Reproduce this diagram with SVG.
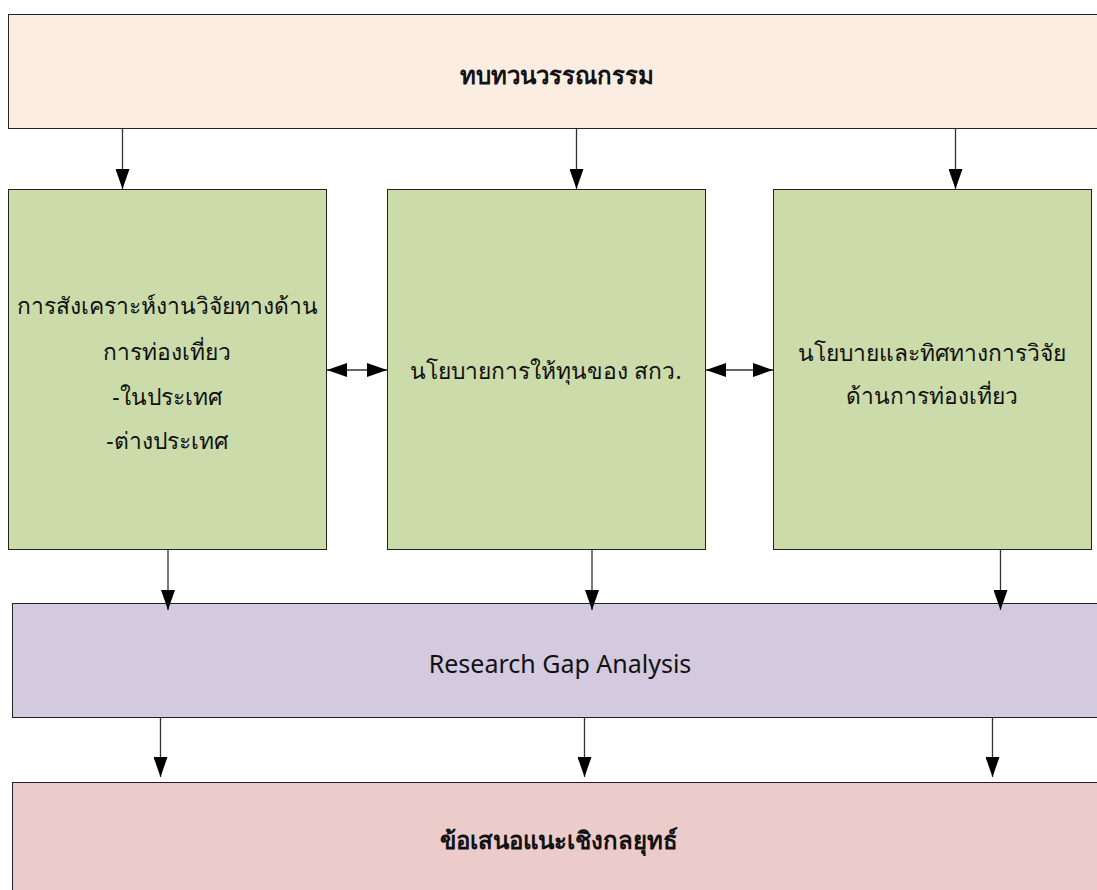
<svg xmlns="http://www.w3.org/2000/svg" width="1097" height="890" viewBox="0 0 1097 890">
  <style>
    .box { stroke: #222; stroke-width: 1; }
    .t { font-family: "Noto Sans", "DejaVu Sans", sans-serif; font-size: 22.8px; fill: #111; text-anchor: middle; dominant-baseline: central; }
    .b { font-weight: bold; font-size: 24px; }
    .en { font-size: 25px; }
    .c { stroke: #333; stroke-width: 1.3; fill: none; }
  </style>
  <defs>
    <marker id="ah" viewBox="0 0 20 14" refX="20" refY="7" markerWidth="20" markerHeight="14" markerUnits="userSpaceOnUse" orient="auto-start-reverse">
      <path d="M0,0 L20,7 L0,14 Z" fill="#000"/>
    </marker>
  </defs>
  <rect width="1097" height="890" fill="#fff"/>

  <g id="literature-review">
    <rect class="box" x="8.5" y="14.5" width="1100" height="114" fill="#fcede2"/>
    <text class="t b" x="557" y="74">ทบทวนวรรณกรรม</text>
  </g>

  <g id="synthesis">
    <rect class="box" x="8.5" y="189.5" width="318" height="360" fill="#cbdba9"/>
    <text class="t" x="167" y="305">การสังเคราะห์งานวิจัยทางด้าน</text>
    <text class="t" x="167" y="351">การท่องเที่ยว</text>
    <text class="t" x="167" y="396">-ในประเทศ</text>
    <text class="t" x="167" y="440">-ต่างประเทศ</text>
  </g>

  <g id="funding-policy">
    <rect class="box" x="387.5" y="189.5" width="318" height="360" fill="#cbdba9"/>
    <text class="t" x="546" y="370">นโยบายการให้ทุนของ สกว.</text>
  </g>

  <g id="research-direction">
    <rect class="box" x="773.5" y="189.5" width="318" height="360" fill="#cbdba9"/>
    <text class="t" x="932" y="352">นโยบายและทิศทางการวิจัย</text>
    <text class="t" x="932" y="395">ด้านการท่องเที่ยว</text>
  </g>

  <g id="gap-analysis">
    <rect class="box" x="12.5" y="603.5" width="1100" height="114" fill="#d3cadf"/>
    <text class="t en" x="560" y="663">Research Gap Analysis</text>
  </g>

  <g id="recommendations">
    <rect class="box" x="12.5" y="782.5" width="1100" height="120" fill="#ebcccb"/>
    <text class="t b" x="559" y="839">ข้อเสนอแนะเชิงกลยุทธ์</text>
  </g>

  <g id="connectors">
    <line class="c" x1="122.5" y1="129" x2="122.5" y2="189" marker-end="url(#ah)"/>
    <line class="c" x1="576.5" y1="129" x2="576.5" y2="189" marker-end="url(#ah)"/>
    <line class="c" x1="955.5" y1="129" x2="955.5" y2="189" marker-end="url(#ah)"/>

    <line class="c" x1="327" y1="370" x2="387" y2="370" marker-start="url(#ah)" marker-end="url(#ah)"/>
    <line class="c" x1="706" y1="370" x2="773" y2="370" marker-start="url(#ah)" marker-end="url(#ah)"/>

    <line class="c" x1="168" y1="550" x2="168" y2="610" marker-end="url(#ah)"/>
    <line class="c" x1="592" y1="550" x2="592" y2="610" marker-end="url(#ah)"/>
    <line class="c" x1="1000.5" y1="550" x2="1000.5" y2="610" marker-end="url(#ah)"/>

    <line class="c" x1="160.5" y1="718" x2="160.5" y2="777" marker-end="url(#ah)"/>
    <line class="c" x1="584.5" y1="718" x2="584.5" y2="777" marker-end="url(#ah)"/>
    <line class="c" x1="992.5" y1="718" x2="992.5" y2="777" marker-end="url(#ah)"/>
  </g>
</svg>
